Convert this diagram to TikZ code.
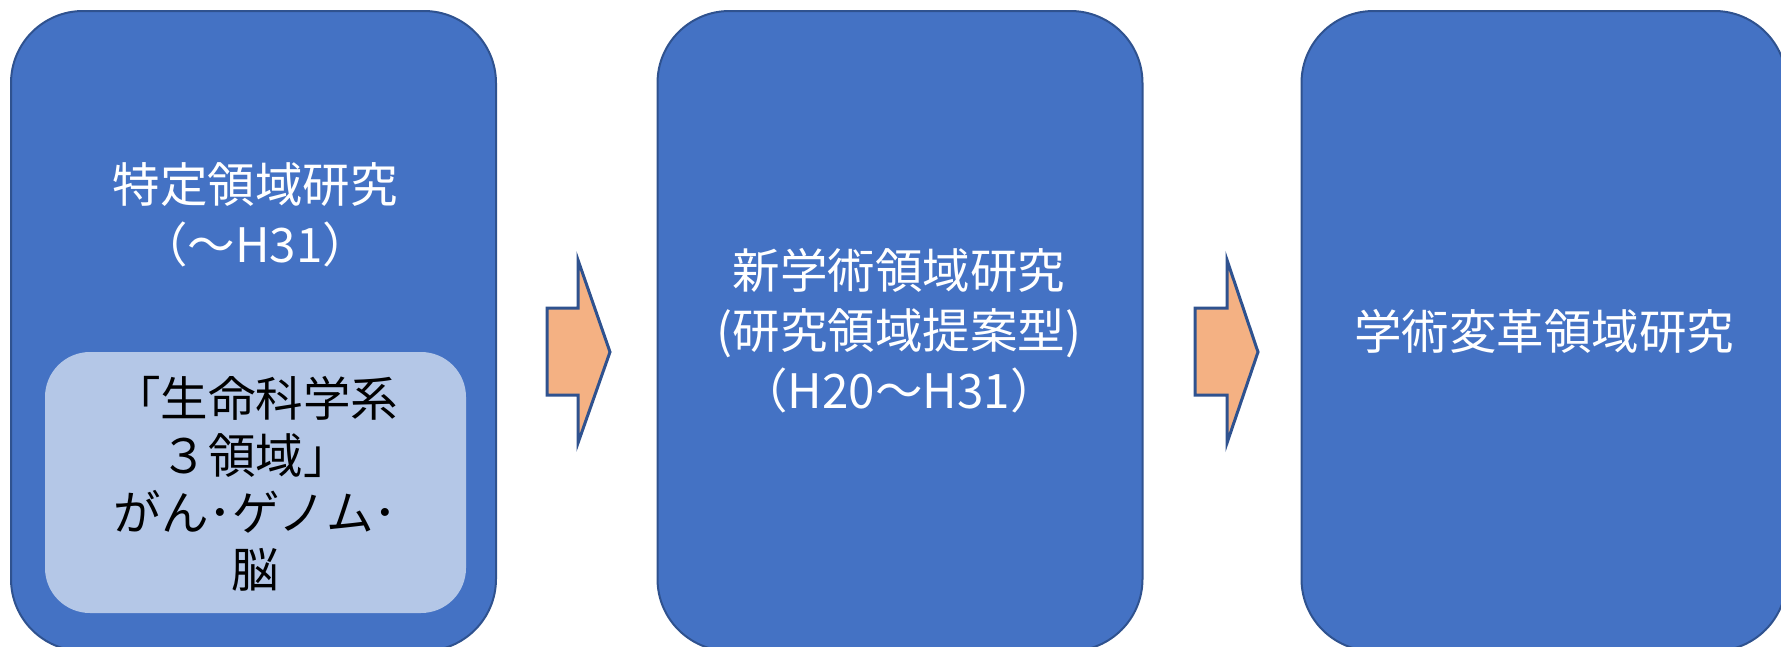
\documentclass[tikz,border=0pt]{standalone}
\usepackage{fontspec}
\setmainfont{Noto Sans CJK JP}
\definecolor{boxfill}{HTML}{4472C4}
\definecolor{boxline}{HTML}{2F528F}
\definecolor{innerfill}{HTML}{B4C7E7}
\definecolor{arrowfill}{HTML}{F4B183}
\tikzset{
  bigbox/.style={draw=boxline, fill=boxfill, line width=2pt, rounded corners=72pt,
    minimum width=485pt, minimum height=640pt, inner sep=0pt},
  innerbox/.style={fill=innerfill, rounded corners=45pt,
    minimum width=421pt, minimum height=261pt, inner sep=0pt},
  blockarrow/.style={draw=boxline, fill=arrowfill, line width=3pt, line join=miter},
  wtext/.style={text=white, align=center, inner sep=0pt, font=\fontsize{47.5}{60}\selectfont},
  btext/.style={text=black, align=center, inner sep=0pt, font=\fontsize{47.5}{57}\selectfont},
}
\begin{document}
\begin{tikzpicture}[x=1pt, y=-1pt]
\useasboundingbox (0,0) rectangle (1781,646);
% boxes
\node[bigbox] (b1) at (253.5,331) {};
\node[bigbox] (b2) at (900,331) {};
\node[bigbox] (b3) at (1544,331) {};
\node[innerbox] (in1) at (255.5,482.5) {};
% texts
\node[wtext] (t1) at (255,215) {特定領域研究\\（～H31）};
\node[btext] (t2) at (255.5,484) {「生命科学系\\３領域」\\がん･ゲノム･\\脳};
\node[wtext] (t3) at (899,331) {新学術領域研究\\(研究領域提案型)\\（H20～H31）};
\node[wtext] (t4) at (1544,331) {学術変革領域研究};
% block arrows
\coordinate (a1) at (547,352);
\draw[blockarrow] (a1) ++(0,-44) -- ++(31,0) -- ++(0,-48) -- ++(32,92) -- ++(-32,91) -- ++(0,-48) -- ++(-31,0) -- cycle;
\coordinate (a2) at (1195,352);
\draw[blockarrow] (a2) ++(0,-44) -- ++(32,0) -- ++(0,-48) -- ++(31,92) -- ++(-31,91) -- ++(0,-48) -- ++(-32,0) -- cycle;
\end{tikzpicture}
\end{document}
